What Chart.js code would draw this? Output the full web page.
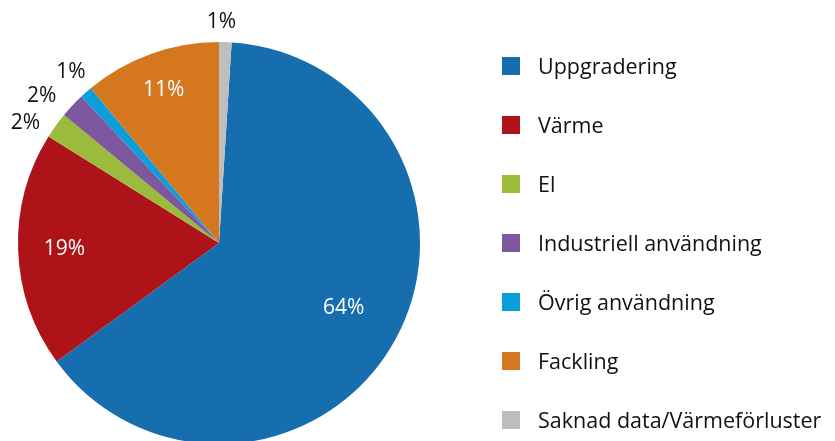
<!DOCTYPE html>
<html lang="sv">
<head>
<meta charset="UTF-8">
<title>Användning av biogas</title>
<style>
  * { margin: 0; padding: 0; box-sizing: border-box; }
  html, body { width: 835px; height: 441px; overflow: hidden; background: #fff; }
  #wrap { position: relative; width: 835px; height: 450px; }
</style>
</head>
<body>
<div id="wrap"><canvas id="chart" width="835" height="450"></canvas></div>
<script src="https://cdn.jsdelivr.net/npm/chart.js@4"></script>
<script>
// data
const categories = ['Uppgradering', 'Värme', 'El', 'Industriell användning', 'Övrig användning', 'Fackling', 'Saknad data/Värmeförluster'];
const shares = [63.9, 18.9, 2.1, 2.0, 1.0, 11.0, 1.0];
const pctLabels = ['64%', '19%', '2%', '2%', '1%', '11%', '1%'];
const colors = ['#176EAF', '#AD1319', '#9BBB3C', '#7D589E', '#0C9DDB', '#D5771F', '#BEBEBE'];

const FONT = '"Open Sans", "Liberation Sans", sans-serif';

// label placement: inside labels at a fraction of the radius, outside ones a
// few px past the edge; 'a' nudges the angle (deg) like Excel's best fit does
const labelPlace = [
  { inside: true, f: 0.70, a: -1.2 },
  { inside: true, f: 0.77, a: 0 },
  { inside: false, d: 27, a: -3.9 },
  { inside: false, d: 29.5, a: -3.4 },
  { inside: false, d: 25.5, a: 0.6 },
  { inside: true, f: 0.81, a: 0 },
  { inside: false, d: 19.5, a: -1.2 }
];

const pieLabels = {
  id: 'pieLabels',
  afterDatasetsDraw(chart) {
    const ctx = chart.ctx;
    const arcs = chart.getDatasetMeta(0).data;
    ctx.save();
    ctx.font = '21px ' + FONT;
    ctx.textAlign = 'center';
    ctx.textBaseline = 'middle';
    arcs.forEach((arc, i) => {
      const p = labelPlace[i];
      const mid = (arc.startAngle + arc.endAngle) / 2 + p.a * Math.PI / 180;
      const r = p.inside ? arc.outerRadius * p.f : arc.outerRadius + p.d;
      const x = arc.x + Math.cos(mid) * r;
      const y = arc.y + Math.sin(mid) * r;
      ctx.fillStyle = p.inside ? '#ffffff' : '#111111';
      ctx.fillText(pctLabels[i], x, y);
    });
    ctx.restore();
  }
};

const sideLegend = {
  id: 'sideLegend',
  afterDraw(chart) {
    const ctx = chart.ctx;
    ctx.save();
    ctx.font = '21.5px ' + FONT;
    ctx.textAlign = 'left';
    ctx.textBaseline = 'alphabetic';
    categories.forEach((name, i) => {
      const cy = 66 + i * 59;
      ctx.fillStyle = colors[i];
      ctx.fillRect(502, cy - 9, 18, 18);
      ctx.fillStyle = '#111111';
      ctx.fillText(name, 538, cy + 7.5);
    });
    ctx.restore();
  }
};

const total = shares.reduce((a, b) => a + b, 0);

new Chart(document.getElementById('chart'), {
  type: 'pie',
  data: {
    labels: categories,
    datasets: [{
      data: shares,
      backgroundColor: colors,
      borderWidth: 0
    }]
  },
  options: {
    responsive: false,
    animation: false,
    rotation: 360 * shares[6] / total,
    layout: { padding: { left: 18, top: 42, right: 415, bottom: 6 } },
    plugins: {
      legend: { display: false },
      tooltip: { enabled: false }
    }
  },
  plugins: [pieLabels, sideLegend]
});
</script>
</body>
</html>
